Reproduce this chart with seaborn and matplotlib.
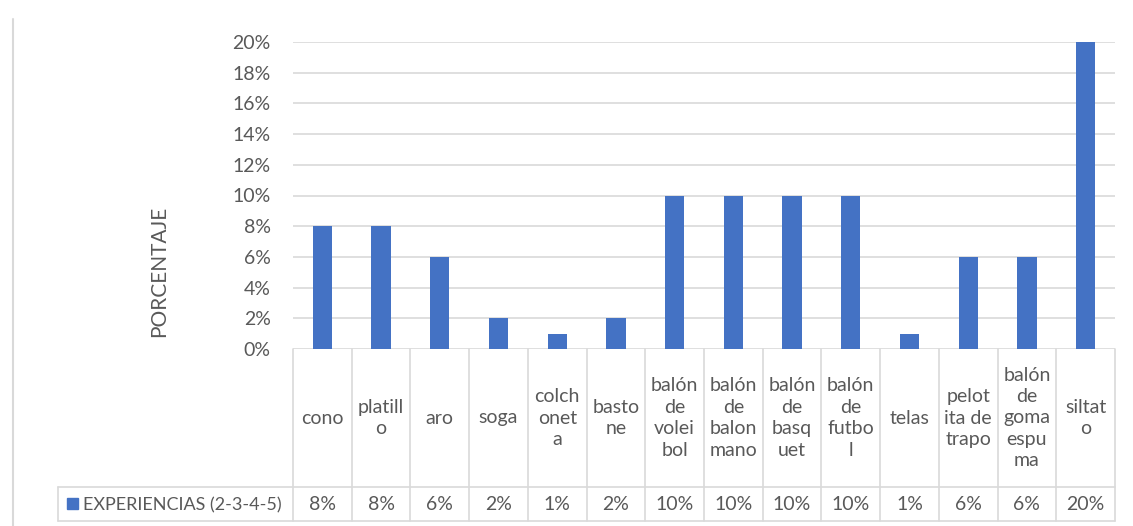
import numpy as np
import pandas as pd
import seaborn as sns
import matplotlib.pyplot as plt
from matplotlib.lines import Line2D
from matplotlib.patches import Rectangle
from matplotlib.transforms import blended_transform_factory

# ---- data ----
categories = ["cono", "platillo", "aro", "soga", "colchoneta", "bastone",
              "balón de voleibol", "balón de balonmano", "balón de basquet",
              "balón de futbol", "telas", "pelotita de trapo",
              "balón de goma espuma", "siltato"]
category_labels = ["cono", "platill\no", "aro", "soga", "colch\nonet\na",
                   "basto\nne", "balón\nde\nvolei\nbol", "balón\nde\nbalon\nmano",
                   "balón\nde\nbasq\nuet", "balón\nde\nfutbo\nl", "telas",
                   "pelot\nita de\ntrapo", "balón\nde\ngoma\nespu\nma", "siltat\no"]
values = [8, 8, 6, 2, 1, 2, 10, 10, 10, 10, 1, 6, 6, 20]
series_name = "EXPERIENCIAS (2-3-4-5)"
y_ticks = [0, 2, 4, 6, 8, 10, 12, 14, 16, 18, 20]
y_label = "PORCENTAJE"

BAR = "#4472C4"
TXT = "#595959"
GRID = "#d9d9d9"
FONT = "Lato"
FS = 14

sns.set_theme(style="white")
plt.rcParams["font.family"] = [FONT, "DejaVu Sans"]

W, H = 1133, 526
fig = plt.figure(figsize=(W / 100, H / 100), dpi=100)

# full-figure overlay in pixel coordinates (y downward)
ov = fig.add_axes([0, 0, 1, 1])
ov.set_xlim(0, W)
ov.set_ylim(H, 0)
ov.axis("off")

x0, x1, ytop, ybase = 293, 1115, 42, 349
ax = fig.add_axes([x0 / W, 1 - ybase / H, (x1 - x0) / W, (ybase - ytop) / H])

df = pd.DataFrame({"cat": categories, "val": values})
sns.barplot(data=df, x="cat", y="val", ax=ax, color=BAR, saturation=1,
            width=0.33, zorder=3, linewidth=0, edgecolor="none")
ax.set_xlim(-0.5, len(categories) - 0.5)
ax.set_ylim(0, 20)
ax.set_yticks(y_ticks)
ax.set_yticklabels([f"{t}%" for t in y_ticks], color=TXT, fontsize=FS)
ax.tick_params(axis="y", length=0, pad=16)
ax.set_xticks([])
ax.set_xlabel("")
ax.set_ylabel("")
for t in y_ticks:
    ax.axhline(t, color=GRID, lw=1.2, zorder=1)
for s in ax.spines.values():
    s.set_visible(False)
ax.patch.set_alpha(0)

fig.text(159 / W, 1 - 271 / H, y_label, rotation=90, ha="center", va="center",
         color=TXT, fontsize=FS + 1)

# ---- data table below the plot ----
tr = blended_transform_factory(ax.transData, ov.transData)
n = len(categories)
row1, row2, row3 = ybase, 487, 521
lw = 1.2
for i in range(n + 1):
    ov.add_line(Line2D([i - 0.5, i - 0.5], [row1, row3], transform=tr,
                       color=GRID, lw=lw))
ov.add_line(Line2D([58, x1], [row2, row2], color=GRID, lw=lw))
ov.add_line(Line2D([58, x1], [row3, row3], color=GRID, lw=lw))
ov.add_line(Line2D([58, 58], [row2, row3], color=GRID, lw=lw))

for i, (lab, v) in enumerate(zip(category_labels, values)):
    ov.text(i, (row1 + row2) / 2, lab, transform=tr, ha="center", va="center",
            multialignment="center", color=TXT, fontsize=FS, linespacing=1.32)
    ov.text(i, (row2 + row3) / 2 + 1, f"{v}%", transform=tr, ha="center",
            va="center", color=TXT, fontsize=FS)

ov.add_patch(Rectangle((67, 498), 11, 11, color=BAR))
ov.text(83, (row2 + row3) / 2 + 1, series_name, ha="left", va="center",
        color=TXT, fontsize=FS - 1)

# chart frame edge
ov.add_line(Line2D([12.5, 12.5], [19, H], color=GRID, lw=1.5))

fig.savefig("out.png", dpi=100, facecolor="white")
